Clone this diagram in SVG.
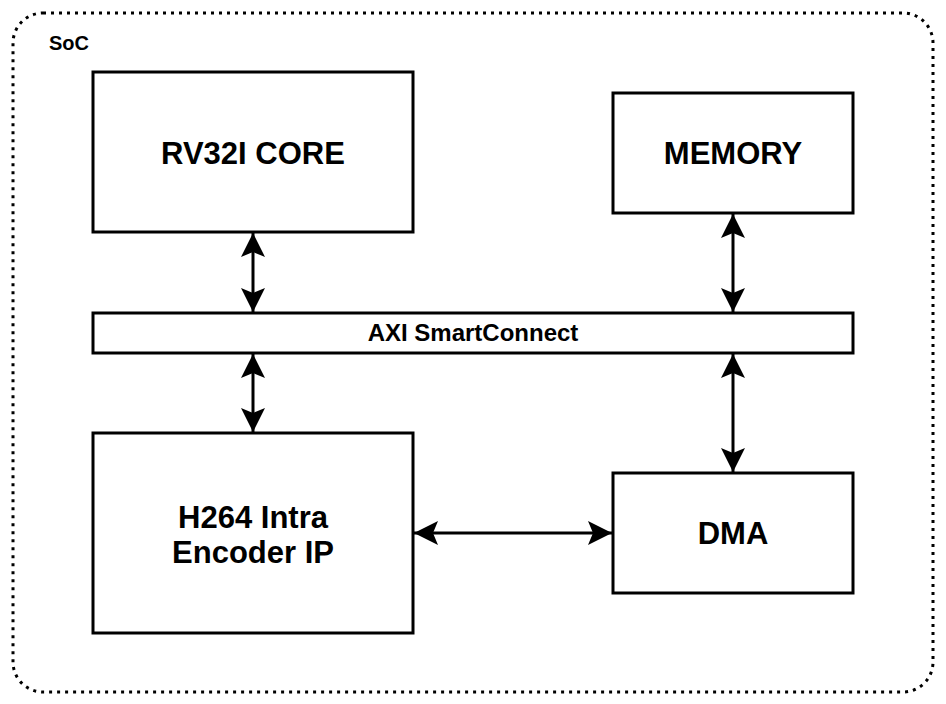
<svg xmlns="http://www.w3.org/2000/svg" width="946" height="704" viewBox="0 0 946 704">
<defs>
<marker id="ah" viewBox="0 0 24 24" refX="24" refY="12" markerWidth="24" markerHeight="24" markerUnits="userSpaceOnUse" orient="auto-start-reverse">
<path d="M0,0 L24,12 L0,24 L5,12 Z" fill="#000"/>
</marker>
<style>
.box{fill:#fff;stroke:#000;stroke-width:3}
.lbl{font-family:"Liberation Sans",Arial,sans-serif;font-weight:bold;fill:#000;text-anchor:middle}
.big{font-size:31px}
.conn{stroke:#000;stroke-width:3;fill:none;marker-start:url(#ah);marker-end:url(#ah)}
</style>
</defs>
<rect width="946" height="704" fill="#fff"/>
<g id="soc">
<rect x="13" y="13" width="920" height="679" rx="30" ry="30" fill="none" stroke="#000" stroke-width="3" stroke-dasharray="3 5"/>
<text x="49" y="50" font-family="Liberation Sans, Arial, sans-serif" font-weight="bold" font-size="20">SoC</text>
</g>
<g id="rv32i">
<rect class="box" x="93" y="72" width="320" height="160"/>
<text class="lbl big" x="253" y="164">RV32I CORE</text>
</g>
<g id="memory">
<rect class="box" x="613" y="93" width="240" height="120"/>
<text class="lbl big" x="733" y="164">MEMORY</text>
</g>
<g id="axi">
<rect class="box" x="93" y="313" width="760" height="40"/>
<text class="lbl" font-size="24" x="473" y="341">AXI SmartConnect</text>
</g>
<g id="h264">
<rect class="box" x="93" y="433" width="320" height="200"/>
<text class="lbl big" x="253" y="528">H264 Intra</text>
<text class="lbl big" x="253" y="563">Encoder IP</text>
</g>
<g id="dma">
<rect class="box" x="613" y="473" width="240" height="120"/>
<text class="lbl big" x="733" y="544">DMA</text>
</g>
<g id="connectors">
<line class="conn" x1="253" y1="233" x2="253" y2="312"/>
<line class="conn" x1="253" y1="354" x2="253" y2="432"/>
<line class="conn" x1="733" y1="214" x2="733" y2="312"/>
<line class="conn" x1="733" y1="354" x2="733" y2="472"/>
<line class="conn" x1="414" y1="533" x2="612" y2="533"/>
</g>
</svg>
